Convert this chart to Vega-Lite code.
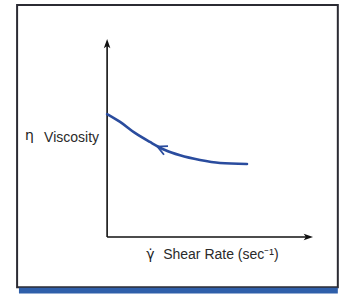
{
  "$schema": "https://vega.github.io/schema/vega-lite/v6.json",
  "width": 344,
  "height": 295,
  "padding": 0,
  "autosize": {"type": "fit", "contains": "padding"},
  "background": "white",
  "config": {"view": {"stroke": null}},
  "datasets": {
    "frame": [{"x": -4.37, "x2": 11.2, "y": 11.8, "y2": -2.55}],
    "bar": [{"x": -4.28, "x2": 11.2, "y": -2.58, "y2": -2.88}],
    "axes": [
      {"x": 0, "y": 0, "x2": 0, "y2": 9.85},
      {"x": 0, "y": 0, "x2": 9.8, "y2": 0}
    ],
    "heads": [
      {"x": 0, "y": 9.79, "dir": "up"},
      {"x": 9.73, "y": 0, "dir": "right"}
    ],
    "curve": [
      {"x": 0.0, "y": 6.25},
      {"x": 0.63, "y": 5.85},
      {"x": 1.35, "y": 5.29},
      {"x": 2.08, "y": 4.83},
      {"x": 2.81, "y": 4.42},
      {"x": 3.54, "y": 4.15},
      {"x": 4.51, "y": 3.91},
      {"x": 5.48, "y": 3.76},
      {"x": 6.79, "y": 3.71}
    ],
    "chevron": [{"x": 2.65, "y": 4.5}],
    "symbols": [
      {"x": -3.99, "y": 5.12, "t": "η"},
      {"x": 1.9, "y": -0.92, "t": "γ̇"}
    ],
    "labels": [
      {"x": -3.06, "y": 5.03, "t": "Viscosity"},
      {"x": 2.72, "y": -0.92, "t": "Shear Rate (sec⁻¹)"}
    ]
  },
  "layer": [
    {
      "data": {"name": "frame"},
      "mark": {"type": "rect", "fill": "white", "stroke": "#2b2b33", "strokeWidth": 2},
      "encoding": {
        "x": {"field": "x", "type": "quantitative", "scale": {"domain": [-5.2, 11.5], "nice": false, "zero": false}, "axis": null},
        "x2": {"field": "x2"},
        "y": {"field": "y", "type": "quantitative", "scale": {"domain": [-2.95, 12.05], "nice": false, "zero": false}, "axis": null},
        "y2": {"field": "y2"}
      }
    },
    {
      "data": {"name": "bar"},
      "mark": {"type": "rect", "fill": "#2f5faa"},
      "encoding": {
        "x": {"field": "x", "type": "quantitative"},
        "x2": {"field": "x2"},
        "y": {"field": "y", "type": "quantitative"},
        "y2": {"field": "y2"}
      }
    },
    {
      "data": {"name": "axes"},
      "mark": {"type": "rule", "color": "#111111", "strokeWidth": 1.6},
      "encoding": {
        "x": {"field": "x", "type": "quantitative"},
        "x2": {"field": "x2"},
        "y": {"field": "y", "type": "quantitative"},
        "y2": {"field": "y2"}
      }
    },
    {
      "data": {"name": "heads"},
      "mark": {"type": "point", "filled": true, "color": "#111111", "opacity": 1, "size": 120,
               "shape": "M0,-1 L0.6,0.7 L0,0.3 L-0.6,0.7 Z"},
      "encoding": {
        "x": {"field": "x", "type": "quantitative"},
        "y": {"field": "y", "type": "quantitative"},
        "angle": {"field": "dir", "type": "nominal", "scale": {"domain": ["up", "right"], "range": [0, 90]}, "legend": null}
      }
    },
    {
      "data": {"name": "curve"},
      "mark": {"type": "line", "color": "#2a4c9e", "strokeWidth": 2.6, "interpolate": "monotone", "strokeCap": "round"},
      "encoding": {
        "x": {"field": "x", "type": "quantitative"},
        "y": {"field": "y", "type": "quantitative"}
      }
    },
    {
      "data": {"name": "chevron"},
      "mark": {"type": "point", "filled": false, "color": "#2a4c9e", "opacity": 1, "size": 90, "strokeWidth": 1.8,
               "shape": "M1,-1 L-1,0 L1,1", "angle": 25},
      "encoding": {
        "x": {"field": "x", "type": "quantitative"},
        "y": {"field": "y", "type": "quantitative"}
      }
    },
    {
      "data": {"name": "symbols"},
      "mark": {"type": "text", "align": "left", "baseline": "middle", "font": "DejaVu Sans", "fontSize": 14, "color": "#222222"},
      "encoding": {
        "x": {"field": "x", "type": "quantitative"},
        "y": {"field": "y", "type": "quantitative"},
        "text": {"field": "t"}
      }
    },
    {
      "data": {"name": "labels"},
      "mark": {"type": "text", "align": "left", "baseline": "middle", "font": "Liberation Sans", "fontSize": 14, "color": "#2a2a2a"},
      "encoding": {
        "x": {"field": "x", "type": "quantitative"},
        "y": {"field": "y", "type": "quantitative"},
        "text": {"field": "t"}
      }
    }
  ]
}
